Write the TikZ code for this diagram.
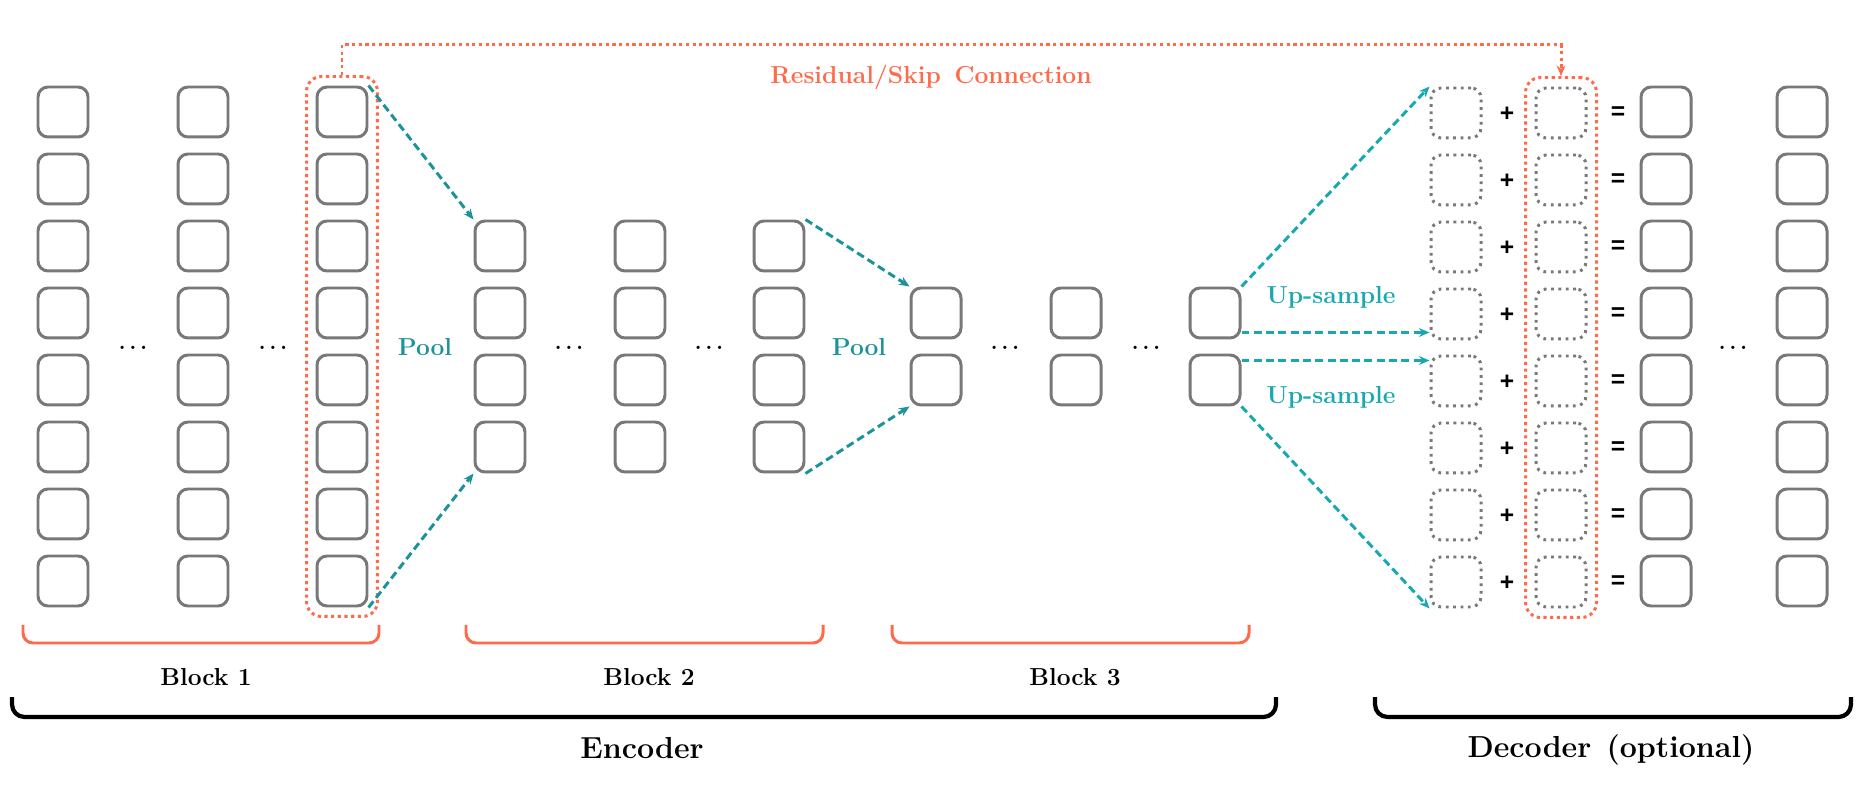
\documentclass[tikz,border=0pt]{standalone}
\usepackage{fontspec}
\setsansfont{Liberation Sans}
\usepackage{tikz}
\usetikzlibrary{shapes, arrows.meta, calc, positioning, fit}

\definecolor{skipcol}{RGB}{255,106,74}
\definecolor{upcol}{RGB}{23,168,176}
\definecolor{poolcol}{RGB}{28,146,154}
\definecolor{cellcol}{RGB}{120,120,120}

\begin{document}
\begin{tikzpicture}[x=0.02cm, y=-0.02cm, >={Stealth[length=6pt, width=5pt]}]
	\tikzstyle{cell} = [draw=cellcol, line width=1.7pt, rounded corners=0.2cm, minimum size=1.0cm, inner sep=0pt]
	\tikzstyle{ghost} = [cell, dash pattern=on 1.6pt off 2.6pt]
	\tikzstyle{skipbox} = [draw=skipcol, line width=1.7pt, dash pattern=on 1.8pt off 2pt, rounded corners=0.3cm, inner sep=0.18cm]
	\tikzstyle{skipline} = [skipcol, line width=1.7pt, dash pattern=on 1.8pt off 2pt]
	\tikzstyle{poolarrow} = [->, poolcol, line width=1.7pt, dash pattern=on 4.5pt off 2.5pt]
	\tikzstyle{uparrow} = [->, upcol, line width=1.7pt, dash pattern=on 4.5pt off 2.5pt]
	\tikzstyle{dotsnode} = [inner sep=0pt, font=\boldmath\fontsize{12.5}{14}\selectfont]
	\tikzstyle{sign} = [inner sep=0pt, font=\sffamily\bfseries\fontsize{14}{16}\selectfont]
	\tikzstyle{lbl} = [inner sep=1pt, font=\bfseries\fontsize{14}{16}\selectfont]
	\tikzstyle{biglbl} = [inner sep=1pt, font=\bfseries\fontsize{17.3}{20}\selectfont]
	\tikzstyle{blockbrace} = [skipcol, line width=1.7pt, rounded corners=0.2cm]
	\tikzstyle{partbrace} = [black, line width=2.4pt, rounded corners=0.25cm]

	\useasboundingbox (0,0) rectangle (1876,786);

	\begin{scope}
		\foreach \c/\x in {1/63, 2/203, 3/342}
			\foreach \r in {1,...,8}
				\node[cell] (b1-\c-\r) at (\x, {112+67*(\r-1)}) {};
		\node[dotsnode] (b1dots1) at (133,348) {$\ldots$};
		\node[dotsnode] (b1dots2) at (273,348) {$\ldots$};
		\node[skipbox, fit=(b1-3-1)(b1-3-8)] (skip1) {};
	\end{scope}

	\begin{scope}
		\foreach \c/\x in {1/500, 2/640, 3/779}
			\foreach \r in {1,...,4}
				\node[cell] (b2-\c-\r) at (\x, {246+67*(\r-1)}) {};
		\node[dotsnode] (b2dots1) at (569,348) {$\ldots$};
		\node[dotsnode] (b2dots2) at (709,348) {$\ldots$};
	\end{scope}

	\begin{scope}
		\foreach \c/\x in {1/936, 2/1076, 3/1215}
			\foreach \r in {1,2}
				\node[cell] (b3-\c-\r) at (\x, {313+67*(\r-1)}) {};
		\node[dotsnode] (b3dots1) at (1005,348) {$\ldots$};
		\node[dotsnode] (b3dots2) at (1146,348) {$\ldots$};
	\end{scope}

	\begin{scope}
		\foreach \r in {1,...,8} {
			\node[ghost] (dA-\r) at (1456, {113+67*(\r-1)}) {};
			\node[sign] (plus-\r) at (1507, {114+67*(\r-1)}) {+};
			\node[ghost] (dB-\r) at (1561, {113+67*(\r-1)}) {};
			\node[sign] (eq-\r) at (1618, {113+67*(\r-1)}) {=};
			\node[cell] (dC-\r) at (1666, {112+67*(\r-1)}) {};
			\node[cell] (dD-\r) at (1802, {112+67*(\r-1)}) {};
		}
		\node[dotsnode] (ddots) at (1733,348) {$\ldots$};
		\node[skipbox, fit=(dB-1)(dB-8)] (skip2) {};
	\end{scope}

	\node[lbl, poolcol] (pool1) at (425,347) {Pool};
	\node[lbl, poolcol] (pool2) at (859,347) {Pool};
	\node[lbl, upcol] (up1) at (1331,297) {Up-sample};
	\node[lbl, upcol] (up2) at (1331,397) {Up-sample};
	\node[lbl, skipcol] (resid) at (931,77) {Residual/Skip\hspace{0.55em}Connection};

	\coordinate (rtop) at (900,45);
	\draw[skipline, ->] (skip1.north) |- (rtop) -| (skip2.north);

	\draw[poolarrow] (b1-3-1.north east) -- (b2-1-1.north west);
	\draw[poolarrow] (b1-3-8.south east) -- (b2-1-4.south west);
	\draw[poolarrow] (b2-3-1.north east) -- (b3-1-1.north west);
	\draw[poolarrow] (b2-3-4.south east) -- (b3-1-2.south west);

	\coordinate (mid) at ($(b3-3-1.south east)!0.5!(b3-3-2.north east)$);
	\coordinate (upstart1) at ([yshift=0.28cm]mid);
	\coordinate (upstart2) at ([yshift=-0.28cm]mid);
	\draw[uparrow] (b3-3-1.north east) -- (dA-1.north west);
	\draw[uparrow] (upstart1) -- (upstart1 -| dA-4.west);
	\draw[uparrow] (upstart2) -- (upstart2 -| dA-5.west);
	\draw[uparrow] (b3-3-2.south east) -- (dA-8.south west);

	\draw[blockbrace] (23,625) -- (23,643) -- (379,643) -- (379,625);
	\draw[blockbrace] (466,625) -- (466,643) -- (823,643) -- (823,625);
	\draw[blockbrace] (892,625) -- (892,643) -- (1249,643) -- (1249,625);
	\node[lbl] (blk1) at (206,677) {Block 1};
	\node[lbl] (blk2) at (649,677) {Block 2};
	\node[lbl] (blk3) at (1075,677) {Block 3};

	\draw[partbrace] (12,697) -- (12,717) -- (1276,717) -- (1276,697);
	\draw[partbrace] (1375,697) -- (1375,717) -- (1851,717) -- (1851,697);
	\node[biglbl] (enc) at (642,748) {Encoder};
	\node[biglbl] (dec) at (1611,750) {Decoder\hspace{0.5em}(optional)};
\end{tikzpicture}
\end{document}
